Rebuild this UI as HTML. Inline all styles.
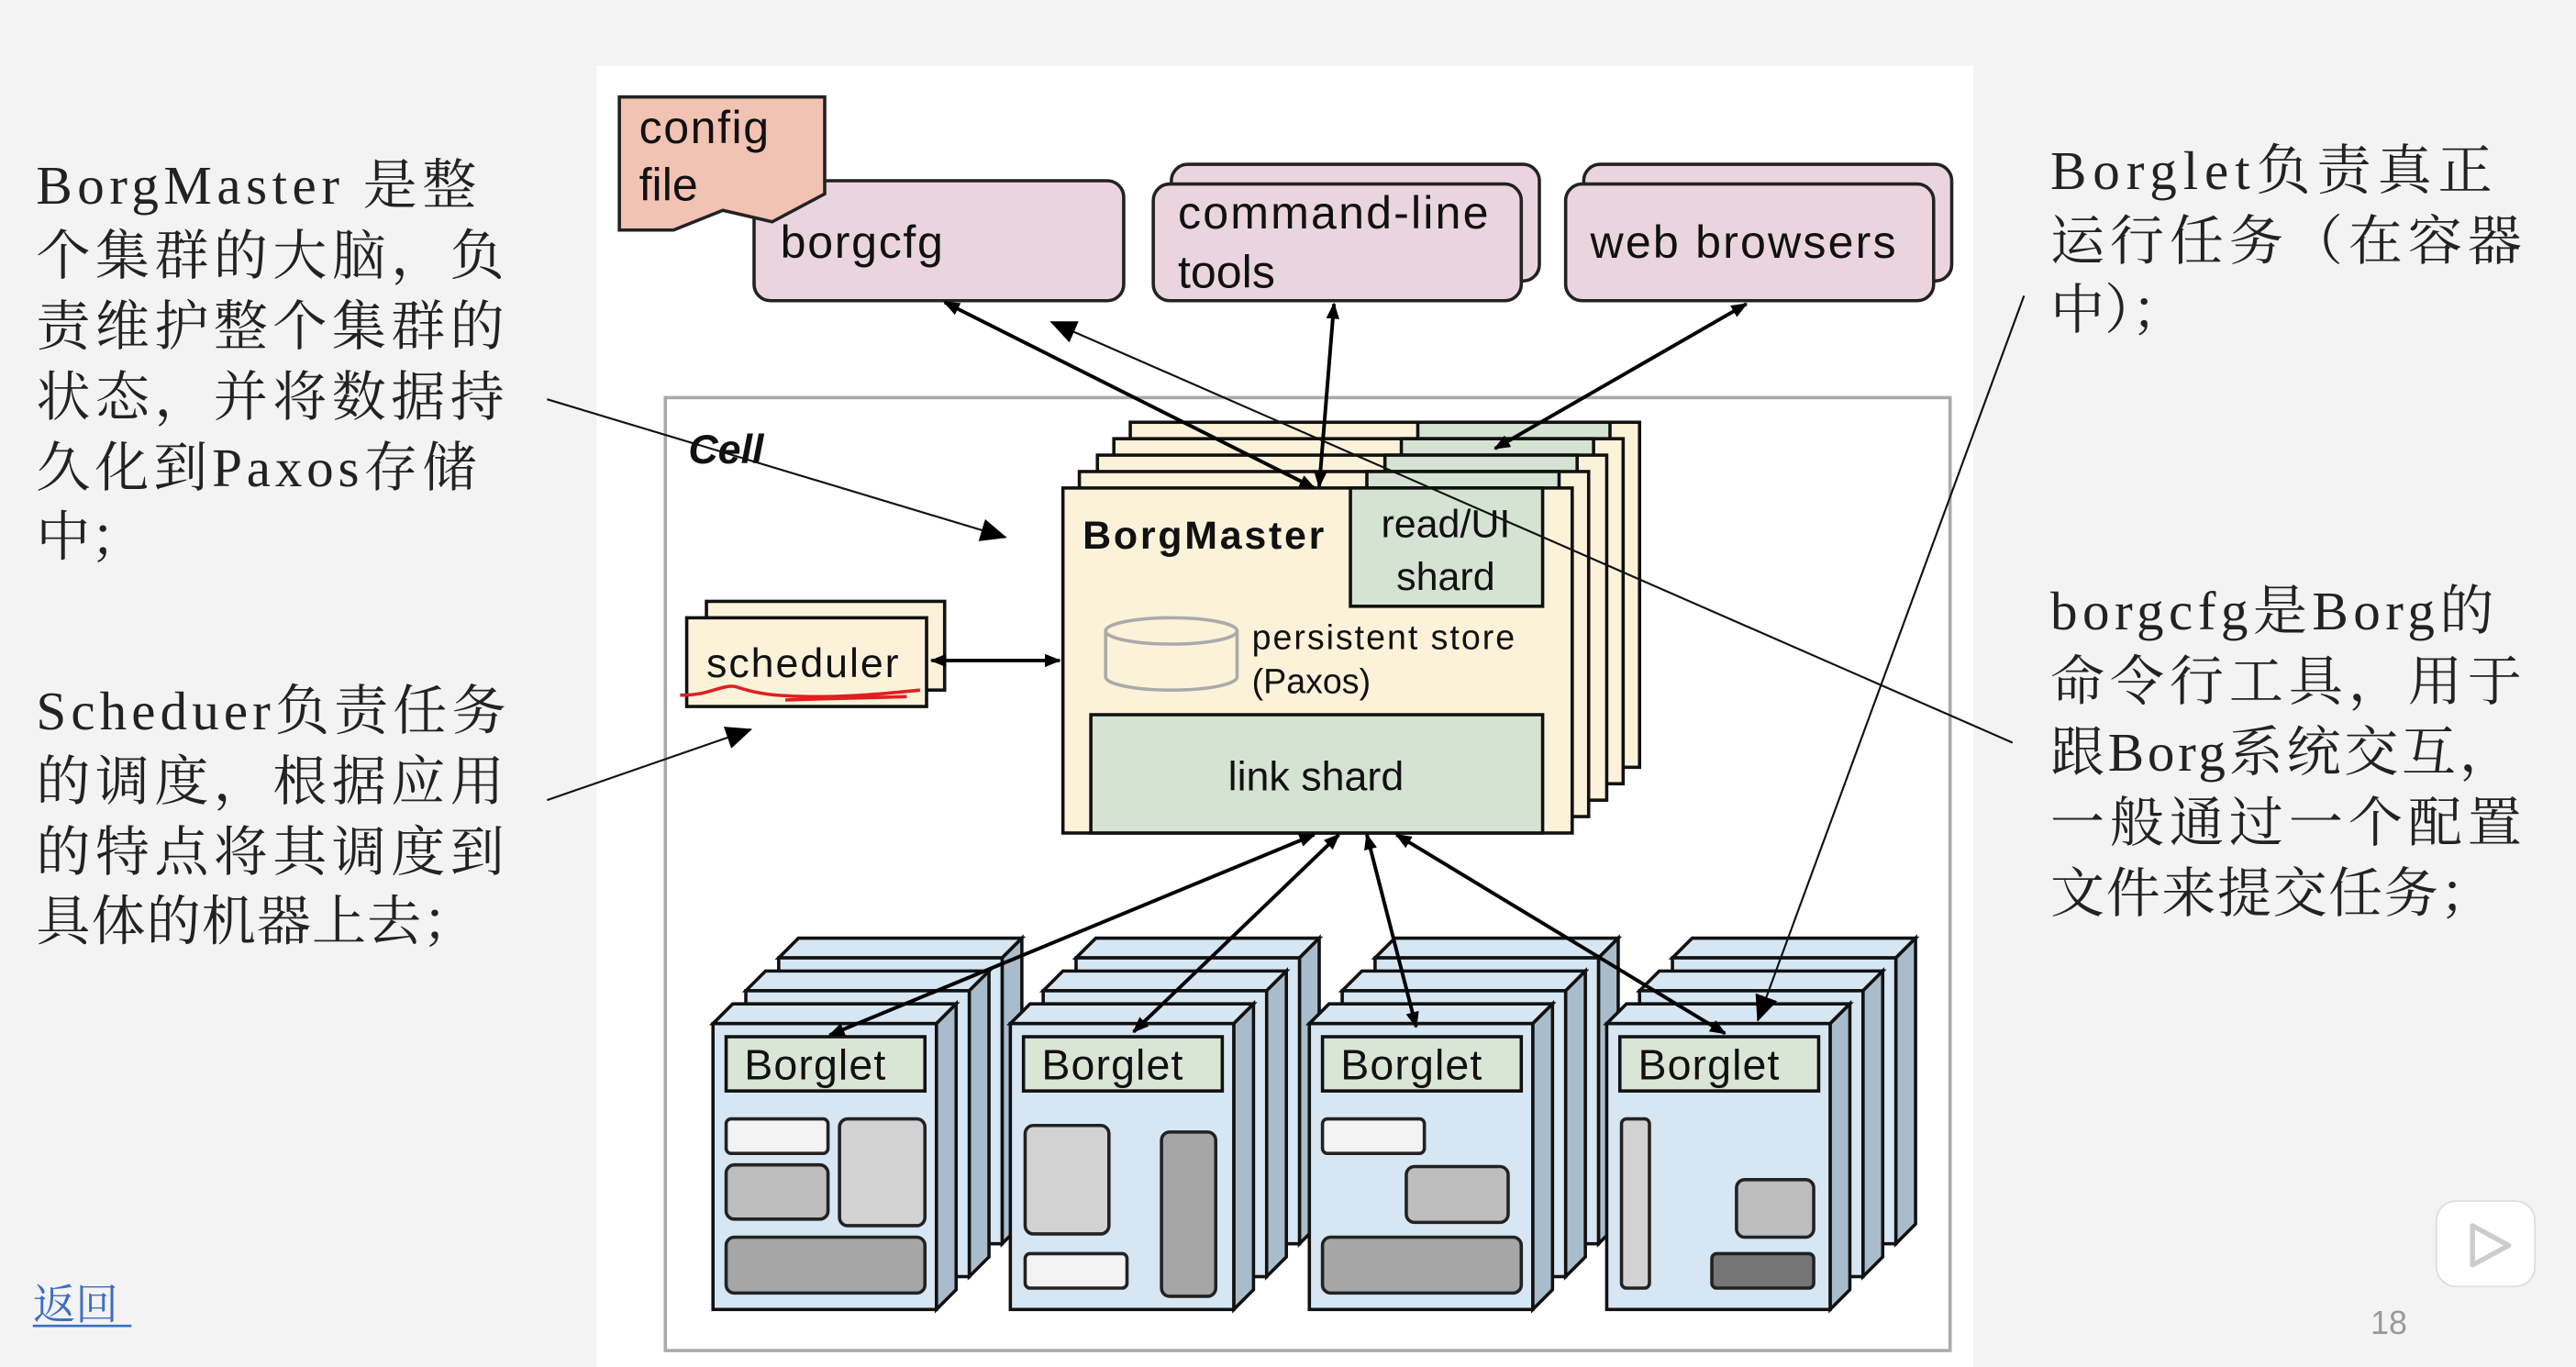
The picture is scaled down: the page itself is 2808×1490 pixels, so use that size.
<!DOCTYPE html>
<html><head><meta charset="utf-8">
<style>
html,body{margin:0;padding:0;background:#f3f3f3;}
svg{display:block;}
.d{font-family:"Liberation Sans",Arial,sans-serif;fill:#111;}
.c{font-family:"Liberation Serif","Noto Serif CJK SC",serif;fill:#222;font-size:33px;}
</style></head><body>
<svg width="2808" height="1490" viewBox="0 0 1568 832" xmlns="http://www.w3.org/2000/svg">
<defs>
<marker id="ah" markerWidth="10" markerHeight="10" refX="9" refY="5" orient="auto-start-reverse" markerUnits="userSpaceOnUse">
<path d="M0,1 L10,5 L0,9 z" fill="#000"/></marker>
<marker id="as" markerWidth="16" markerHeight="14" refX="15" refY="7" orient="auto" markerUnits="userSpaceOnUse">
<path d="M0,0 L16,7 L0,14 z" fill="#000"/></marker>
<g id="box">
<path d="M0,0 L12,-12 L148,-12 L136,0 z" fill="#d6e6f3" stroke="#111" stroke-width="2"/>
<path d="M136,0 L148,-12 L148,162 L136,174 z" fill="#a9bccb" stroke="#111" stroke-width="2"/>
<rect x="0" y="0" width="136" height="174" fill="#d6e6f3" stroke="#111" stroke-width="2"/>
</g>
<g id="stack">
<use href="#box" x="40" y="-40"/>
<use href="#box" x="20" y="-20"/>
<use href="#box" x="0" y="0"/>
<rect x="8" y="8" width="121" height="33" fill="#d9e6d6" stroke="#111" stroke-width="2"/>
</g>
<g id="bm">
<rect x="0" y="0" width="310" height="210" fill="#fcf2da" stroke="#111" stroke-width="2"/>
<rect x="175" y="0" width="117" height="72" fill="#d5e3d3" stroke="#111" stroke-width="2"/>
</g>
</defs>
<rect x="0" y="0" width="1568" height="832" fill="#f3f3f3"/>
<rect x="363" y="40" width="838" height="792" fill="#fff"/>

<!-- top boxes -->
<rect x="459" y="110" width="225" height="73" rx="10" fill="#ead5de" stroke="#222" stroke-width="2"/>
<text class="d" x="475" y="157" font-size="28" textLength="99">borgcfg</text>
<path d="M377,59 L502,59 L502,118 L470,135 L440,128 L410,140 L377,140 z" fill="#f2c2b3" stroke="#222" stroke-width="2"/>
<text class="d" x="389" y="87" font-size="28" textLength="79">config</text>
<text class="d" x="389" y="122" font-size="28">file</text>
<rect x="713" y="100" width="224" height="71" rx="10" fill="#ead5de" stroke="#222" stroke-width="2"/>
<rect x="702" y="112" width="224" height="71" rx="10" fill="#ead5de" stroke="#222" stroke-width="2"/>
<text class="d" x="717" y="139" font-size="28" textLength="189">command-line</text>
<text class="d" x="717" y="175" font-size="28">tools</text>
<rect x="964" y="100" width="224" height="71" rx="10" fill="#ead5de" stroke="#222" stroke-width="2"/>
<rect x="953" y="112" width="224" height="71" rx="10" fill="#ead5de" stroke="#222" stroke-width="2"/>
<text class="d" x="968" y="157" font-size="28" textLength="186">web browsers</text>

<!-- cell -->
<rect x="405" y="242" width="782" height="580" fill="#fff" stroke="#aaa" stroke-width="2"/>
<text class="d" x="419" y="282" font-size="25" font-weight="bold" font-style="italic">Cell</text>

<!-- borgmaster stack -->
<use href="#bm" x="688" y="257"/>
<use href="#bm" x="678" y="267"/>
<use href="#bm" x="668" y="277"/>
<use href="#bm" x="657" y="287"/>
<rect x="647" y="297" width="310" height="210" fill="#fcf2da" stroke="#111" stroke-width="2"/>
<rect x="822" y="297" width="117" height="72" fill="#d5e3d3" stroke="#111" stroke-width="2"/>
<text class="d" x="659" y="334" font-size="24" font-weight="bold" textLength="147">BorgMaster</text>
<text class="d" x="880" y="327" font-size="24" text-anchor="middle">read/UI</text>
<text class="d" x="880" y="359" font-size="24" text-anchor="middle">shard</text>
<path d="M673,384 L673,412 A40,8 0 0 0 753,412 L753,384" fill="none" stroke="#aaa" stroke-width="2"/>
<ellipse cx="713" cy="384" rx="40" ry="8" fill="none" stroke="#aaa" stroke-width="2"/>
<text class="d" x="762" y="395" font-size="21" textLength="160">persistent store</text>
<text class="d" x="762" y="422" font-size="21">(Paxos)</text>
<rect x="664" y="435" width="275" height="72" fill="#d5e3d3" stroke="#111" stroke-width="2"/>
<text class="d" x="801" y="481" font-size="25" text-anchor="middle">link shard</text>

<!-- scheduler -->
<rect x="430" y="366" width="145" height="54" fill="#fcf2da" stroke="#111" stroke-width="2"/>
<rect x="418" y="376" width="146" height="54" fill="#fcf2da" stroke="#111" stroke-width="2"/>
<text class="d" x="430" y="412" font-size="25" textLength="117">scheduler</text>
<path d="M414,423 C430,424 440,416 448,418 C460,422 470,424 500,424 C520,424 540,422 560,420 M478,426 L552,424" fill="none" stroke="#e02020" stroke-width="2"/>

<!-- borglets -->
<use href="#stack" x="434" y="623"/>
<use href="#stack" x="615" y="623"/>
<use href="#stack" x="797" y="623"/>
<use href="#stack" x="978" y="623"/>
<text class="d" x="453" y="657" font-size="26" textLength="86">Borglet</text>
<text class="d" x="634" y="657" font-size="26" textLength="86">Borglet</text>
<text class="d" x="816" y="657" font-size="26" textLength="86">Borglet</text>
<text class="d" x="997" y="657" font-size="26" textLength="86">Borglet</text>
<g stroke="#222" stroke-width="2">
<rect x="442" y="681" width="62" height="21" rx="3" fill="#f3f3f3"/>
<rect x="511" y="681" width="52" height="65" rx="5" fill="#d2d2d2"/>
<rect x="442" y="709" width="62" height="33" rx="5" fill="#bdbdbd"/>
<rect x="442" y="753" width="121" height="34" rx="5" fill="#a6a6a6"/>
<rect x="624" y="685" width="51" height="66" rx="5" fill="#d2d2d2"/>
<rect x="707" y="689" width="33" height="100" rx="5" fill="#a6a6a6"/>
<rect x="624" y="763" width="62" height="21" rx="3" fill="#f3f3f3"/>
<rect x="805" y="681" width="62" height="21" rx="3" fill="#f3f3f3"/>
<rect x="856" y="710" width="62" height="34" rx="5" fill="#bdbdbd"/>
<rect x="805" y="753" width="121" height="34" rx="5" fill="#a6a6a6"/>
<rect x="987" y="681" width="17" height="103" rx="3" fill="#d2d2d2"/>
<rect x="1057" y="718" width="47" height="35" rx="5" fill="#bdbdbd"/>
<rect x="1042" y="763" width="62" height="21" rx="3" fill="#757575"/>
</g>

<!-- diagram arrows -->
<g stroke="#000" stroke-width="2.2" fill="none" marker-start="url(#ah)" marker-end="url(#ah)">
<line x1="575" y1="184" x2="800" y2="297"/>
<line x1="812" y1="185" x2="803" y2="296"/>
<line x1="1063" y1="185" x2="910" y2="273"/>
<line x1="567" y1="402" x2="645" y2="402"/>
<line x1="800" y1="508" x2="505" y2="630"/>
<line x1="815" y1="508" x2="690" y2="628"/>
<line x1="832" y1="508" x2="862" y2="625"/>
<line x1="850" y1="508" x2="1050" y2="629"/>
</g>

<!-- annotation lines -->
<g stroke="#111" stroke-width="1.2" fill="none">
<line x1="333" y1="243" x2="612" y2="327" marker-end="url(#as)"/>
<line x1="333" y1="487" x2="457" y2="444" marker-end="url(#as)"/>
<line x1="1232" y1="180" x2="1070" y2="621" marker-end="url(#as)"/>
<line x1="1225" y1="452" x2="640" y2="196" marker-end="url(#as)"/>
</g>

<!-- left text -->
<text class="c" x="22" y="124" textLength="268">BorgMaster 是整</text>
<text class="c" x="22" y="167" textLength="285">个集群的大脑，负</text>
<text class="c" x="22" y="210" textLength="285">责维护整个集群的</text>
<text class="c" x="22" y="253" textLength="285">状态，并将数据持</text>
<text class="c" x="22" y="296" textLength="268">久化到Paxos存储</text>
<text class="c" x="22" y="338">中；</text>
<text class="c" x="22" y="444" textLength="286">Scheduer负责任务</text>
<text class="c" x="22" y="487" textLength="285">的调度，根据应用</text>
<text class="c" x="22" y="530" textLength="285">的特点将其调度到</text>
<text class="c" x="22" y="572" textLength="268">具体的机器上去；</text>

<!-- right text -->
<text class="c" x="1248" y="115" textLength="269">Borglet负责真正</text>
<text class="c" x="1248" y="158" textLength="287">运行任务（在容器</text>
<text class="c" x="1248" y="200">中）；</text>
<text class="c" x="1248" y="383" textLength="270">borgcfg是Borg的</text>
<text class="c" x="1248" y="426" textLength="287">命令行工具，用于</text>
<text class="c" x="1248" y="469" textLength="282">跟Borg系统交互，</text>
<text class="c" x="1248" y="512" textLength="287">一般通过一个配置</text>
<text class="c" x="1248" y="555" textLength="270">文件来提交任务；</text>

<text x="20" y="803" font-family="Liberation Serif,'Noto Serif CJK SC',serif" font-size="26" fill="#3a6fc4">返回</text>
<line x1="20" y1="807" x2="80" y2="807" stroke="#3a6fc4" stroke-width="1.5"/>
<text x="1443" y="812" font-family="Liberation Sans,sans-serif" font-size="20" fill="#999">18</text>
<rect x="1483" y="731" width="60" height="52" rx="12" fill="#fff" stroke="#ddd"/>
<path d="M1505,746 L1527,758 L1505,770 z" fill="none" stroke="#ccc" stroke-width="3" stroke-linejoin="round"/>
</svg>
</body></html>
